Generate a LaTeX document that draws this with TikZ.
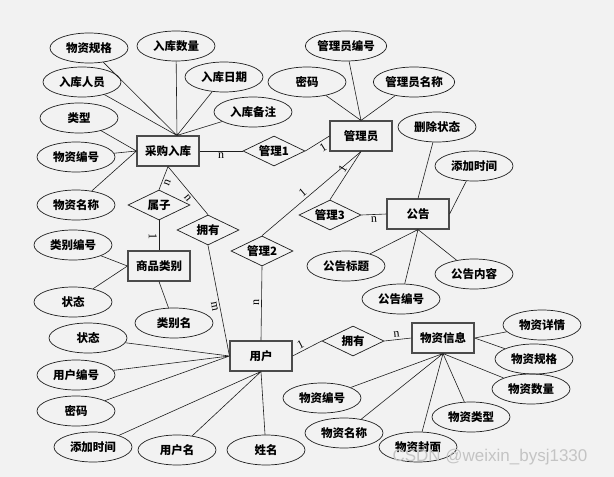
\documentclass[tikz,border=0pt]{standalone}
\usepackage{fontspec}
\setmainfont{Noto Sans CJK SC}
\newfontfamily\cardfont{Liberation Serif}
\newfontfamily\markfont{Liberation Sans}
\usetikzlibrary{shapes.geometric}
\definecolor{ERInk}{HTML}{1E1E1E}
\definecolor{ERPaper}{HTML}{F2F2F2}
\definecolor{ERMark}{HTML}{C4C4C4}

\begin{document}
\begin{tikzpicture}[
    x=1pt,y=-1pt,
    font=\fontsize{11.5}{13}\selectfont\bfseries,
    entity/.style={draw=ERInk!80,line width=1.1pt,minimum width=62pt,minimum height=30pt,inner sep=0pt},
    attr/.style={ellipse,draw=ERInk,line width=0.7pt,minimum width=78pt,minimum height=30pt,inner sep=0pt},
    relation/.style={diamond,aspect=2,draw=ERInk,line width=0.7pt,minimum width=62pt,minimum height=30pt,inner sep=0pt},
    link/.style={draw=ERInk,line width=0.6pt},
    card/.style={font=\cardfont\fontsize{12}{12}\selectfont,inner sep=2pt,sloped}
  ]
    \fill[ERPaper] (0,0) rectangle (614,477);
    \useasboundingbox (0,0) rectangle (614,477);

    \node[entity] (purchase) at (168,151) {采购入库};
    \node[entity] (admin) at (361,136) {管理员};
    \node[entity] (notice) at (418,214) {公告};
    \node[entity] (category) at (159,266) {商品类别};
    \node[entity] (user) at (261,356) {用户};
    \node[entity] (goods) at (443,338) {物资信息};

    \node[relation] (manage1) at (274,151) {管理1};
    \node[relation] (belong) at (159,205) {属子};
    \node[relation] (ownA) at (208,230) {拥有};
    \node[relation] (manage2) at (262,251) {管理2};
    \node[relation] (manage3) at (330,215) {管理3};
    \node[relation] (ownB) at (353,341) {拥有};

    \node[attr] (pSpec) at (89,48) {物资规格};
    \node[attr] (pQty) at (176,46) {入库数量};
    \node[attr] (pStaff) at (82,82) {入库人员};
    \node[attr] (pDate) at (224,77) {入库日期};
    \node[attr] (pType) at (79,118) {类型};
    \node[attr] (pNote) at (253,112) {入库备注};
    \node[attr] (pNo) at (76,157) {物资编号};
    \node[attr] (pName) at (76,205) {物资名称};

    \node[attr] (aNo) at (346,46) {管理员编号};
    \node[attr] (aPwd) at (307,82) {密码};
    \node[attr] (aName) at (414,82) {管理员名称};

    \node[attr] (nState) at (437,127) {删除状态};
    \node[attr] (nTime) at (474,166) {添加时间};
    \node[attr] (nTitle) at (346,266) {公告标题};
    \node[attr] (nContent) at (474,274) {公告内容};
    \node[attr] (nNo) at (401,299) {公告编号};

    \node[attr] (cNo) at (73,245) {类别编号};
    \node[attr] (cState) at (73,302) {状态};
    \node[attr] (cName) at (174,323) {类别名};

    \node[attr] (uState) at (88,338) {状态};
    \node[attr] (uNo) at (76,375) {用户编号};
    \node[attr] (uPwd) at (76,411) {密码};
    \node[attr] (uTime) at (93,447) {添加时间};
    \node[attr] (uName) at (177,450) {用户名};
    \node[attr] (uRealName) at (266,450) {姓名};

    \node[attr] (gDetail) at (542,325) {物资详情};
    \node[attr] (gSpec) at (534,359) {物资规格};
    \node[attr] (gQty) at (531,389) {物资数量};
    \node[attr] (gNo) at (322,398) {物资编号};
    \node[attr] (gName) at (344,433) {物资名称};
    \node[attr] (gType) at (471,417) {物资类型};
    \node[attr] (gCover) at (418,447) {物资封面};

    \draw[link] (pSpec) -- (purchase.60) (pQty) -- (purchase.60) (pStaff) -- (purchase.60)
      (pDate) -- (purchase.60) (pNote) -- (purchase.60);
    \draw[link] (pType) -- (purchase.west) (pNo) -- (purchase.west) (pName) -- (purchase.west);
    \draw[link] (aNo) -- (admin.north) (aPwd) -- (admin.north) (aName) -- (admin.north);
    \draw[link] (nState) -- (notice.north) (nTime) -- (notice.east);
    \draw[link] (nTitle) -- (notice.south) (nContent) -- (notice.south) (nNo) -- (notice.south);
    \draw[link] (cNo) -- (category.west) (cState) -- (category.west) (cName) -- (category.south);
    \draw[link] (uState) -- (user.west) (uNo) -- (user.west) (uPwd) -- (user.west);
    \draw[link] (uTime) -- (user.south) (uName) -- (user.south) (uRealName) -- (user.south);
    \draw[link] (gDetail) -- (goods.east) (gSpec) -- (goods.east);
    \draw[link] (gQty) -- (goods.south) (gNo) -- (goods.south) (gName) -- (goods.south)
      (gType) -- (goods.south) (gCover) -- (goods.south);

    \draw[link] (purchase.east) -- node[card,below] {n} (manage1.west);
    \draw[link] (manage1.east) -- node[card,below,pos=0.6] {1} (admin.west);
    \draw[link] (admin.south) -- node[card,above,pos=0.55] {1} (manage2.north);
    \draw[link] (admin.south) -- node[card,above,pos=0.42] {1} (manage3.north);
    \draw[link] (manage2.south) -- node[card,above,pos=0.49] {n} (user.north);
    \draw[link] (manage3.east) -- node[card,below] {n} (notice.west);
    \draw[link] (purchase.south) -- node[card,below,pos=0.6] {n} (belong.north);
    \draw[link] (purchase.south) -- node[card,below,pos=0.59] {n} (ownA.north);
    \draw[link] (belong.south) -- node[card,below,pos=0.55] {1} (category.north);
    \draw[link] (ownA.south) -- node[card,below,pos=0.54] {m} (user.west);
    \draw[link] (user.east) -- node[card,above,pos=0.37] {1} (ownB.west);
    \draw[link] (ownB.east) -- node[card,above,pos=0.47] {n} (goods.west);

    \node[font=\markfont\fontsize{17}{17}\selectfont,text=ERMark] (mark) at (490,457) {CSDN @weixin\_bysj1330};
  \end{tikzpicture}
\end{document}
